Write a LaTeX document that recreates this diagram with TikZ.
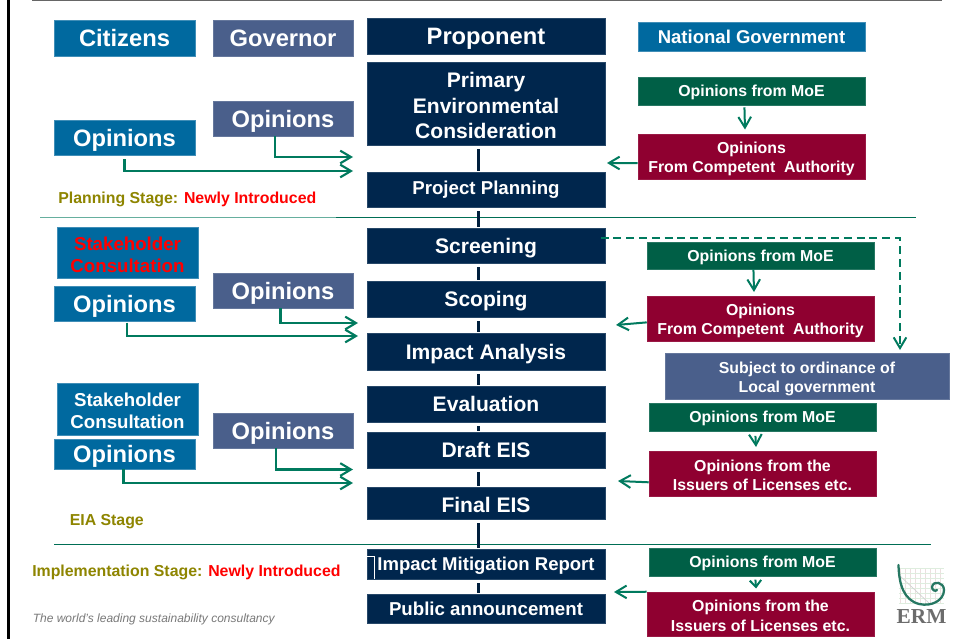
\documentclass[tikz,border=0pt]{standalone}
\usepackage{fontspec}
\setmainfont{Liberation Sans}
\newfontfamily\logofont{Liberation Serif}
\usetikzlibrary{arrows.meta}
\definecolor{cblue}{HTML}{00699F}
\definecolor{cslate}{HTML}{4A5F8B}
\definecolor{cnavy}{HTML}{00264D}
\definecolor{cgreen}{HTML}{005F46}
\definecolor{cred}{HTML}{8F0030}
\definecolor{colive}{HTML}{8E8500}
\definecolor{carrow}{HTML}{007A5E}
\definecolor{cspine}{HTML}{001F3D}
\newcommand{\fs}[2]{\fontsize{#1pt}{#2pt}\selectfont\bfseries}
\newcommand{\bx}[7]{\node[#6,minimum width={(#3-#2)*0.75pt},minimum height={(#5-#4)*0.75pt}] (#1) at ({(#2+#3)/2},{(#4+#5)/2}) {#7};}
\tikzset{
  x=0.75pt,y=-0.75pt,
  box/.style={inner sep=0pt,align=center,text=white,line width=0.4pt,text depth=0pt},
  blue/.style={box,fill=cblue,draw=cblue!75!white},
  slate/.style={box,fill=cslate,draw=cslate!85!white},
  navy/.style={box,fill=cnavy,draw=cnavy!85!white},
  moe/.style={box,fill=cgreen,draw=cgreen!85!white},
  auth/.style={box,fill=cred,draw=cred!90!white},
  big/.style={font=\fs{17.8}{20}},
  mid/.style={font=\fs{15.8}{19}},
  mids/.style={font=\fs{14}{17}},
  small/.style={font=\fs{11.9}{14.3}},
  stk/.style={font=\fs{14}{16.5}},
  spine/.style={draw=cspine,line width=2.4pt,shorten <=3pt,shorten >=0.8pt},
  flow/.style={draw=carrow,line width=1.9pt,-{Straight Barb[length=8pt,width=9.5pt,line width=1.6pt]}},
  flowf/.style={draw=carrow,line width=1.5pt,-{Straight Barb[length=8pt,width=9.5pt,line width=1.5pt]}},
  dashflow/.style={flowf,dash pattern=on 6pt off 3.6pt},
  stage/.style={inner sep=0pt,anchor=west,font=\fs{11.9}{14},text=colive},
  divider/.style={draw=carrow!90!black,line width=0.6pt},
}
\begin{document}
\begin{tikzpicture}
\useasboundingbox (0,0) rectangle (954,639);
\fill[white] (0,0) rectangle (954,639);
% frame lines
\draw[black,line width=1.9pt] (8.5,0) -- (8.5,639);
\draw[gray!80!black,line width=0.8pt] (32,0.5) -- (942,0.5);
% dividers
\draw[divider,carrow!60!white] (40,217.5) -- (336,217.5);
\draw[divider] (336,217.5) -- (916,217.5);
\draw[divider] (54,544.5) -- (931,544.5);
% left columns
\bx{citizens}{54}{195}{20}{56}{blue,big}{Citizens}
\bx{governor}{213}{353}{20}{56}{slate,big}{Governor}
\bx{opg1}{213}{353}{101}{136}{slate,big}{Opinions}
\bx{opc1}{54}{195}{120}{155}{blue,big}{Opinions}
\bx{stk1}{57}{198}{227}{278}{blue,stk,text=red,text height=29.5pt}{Stakeholder\\Consultation}
\bx{opc2}{54}{195}{286}{321}{blue,big}{Opinions}
\bx{opg2}{213}{353}{273}{308}{slate,big}{Opinions}
\bx{stk2}{57}{198}{383}{435}{blue,stk,text height=28.7pt}{Stakeholder\\Consultation}
\bx{opc3}{54}{195}{439}{469}{blue,big}{Opinions}
\bx{opg3}{213}{353}{413}{448}{slate,big}{Opinions}
% centre column
\bx{proponent}{367}{605}{18}{54}{navy,big}{Proponent}
\bx{primary}{367}{605}{62}{145}{navy,mid,text height=52.3pt}{Primary\\Environmental\\Consideration}
\bx{planning}{367}{605}{172}{207}{navy,mids,text depth=3pt}{Project Planning}
\bx{screening}{367}{605}{228}{263}{navy,mid}{Screening}
\bx{scoping}{367}{605}{281}{317}{navy,mid}{Scoping}
\bx{impact}{367}{605}{333}{370}{navy,mid}{Impact Analysis}
\bx{evaluation}{367}{605}{386}{422}{navy,mid}{Evaluation}
\bx{draft}{367}{605}{432}{468}{navy,mid}{Draft EIS}
\bx{final}{367}{605}{487}{519}{navy,mid,text height=14.3pt}{Final EIS}
\bx{mitig}{367}{605}{549}{579}{navy,font=\fs{13.9}{16}}{Impact Mitigation Report}
\bx{public}{367}{605}{594}{623}{navy,mids}{Public announcement}
\draw[white,line width=0.6pt] (367,556) -- (374,556) -- (374,579);
% right column
\bx{natgov}{638}{865}{22}{51}{blue,font=\fs{13.9}{16}}{National Government}
\bx{moe1}{638}{865}{77}{105}{moe,small}{Opinions from MoE}
\bx{auth1}{638}{865}{134}{179}{auth,small,text height=24.3pt}{Opinions\\From Competent\ \ Authority}
\bx{moe2}{647}{874}{242}{269}{moe,small}{Opinions from MoE}
\bx{auth2}{647}{874}{296}{341}{auth,small,text height=24.3pt}{Opinions\\From Competent\ \ Authority}
\bx{local}{665}{949}{353}{399}{slate,small,text height=24.3pt}{Subject to ordinance of\\Local government}
\bx{moe3}{649}{876}{403}{431}{moe,small}{Opinions from MoE}
\bx{auth3}{649}{876}{451}{496}{auth,small,text height=25.8pt}{Opinions from the\\Issuers of Licenses etc.}
\bx{moe4}{649}{876}{548}{576}{moe,small}{Opinions from MoE}
\bx{auth4}{647}{874}{592}{636}{auth,font=\fs{11.9}{15},text height=26.5pt}{Opinions from the\\Issuers of Licenses etc.}
% stage labels
\node[stage] (st1) at (58,199.5) {Planning Stage: \textcolor{red}{Newly Introduced}};
\node[stage] (st2) at (69.5,521.5) {EIA Stage};
\node[stage] (st3) at (32,572.5) {Implementation Stage: \textcolor{red}{Newly Introduced}};
\node[inner sep=0pt,anchor=west,font=\fontsize{9pt}{10pt}\selectfont\itshape,text=gray!95!black] (tag) at (32.5,619.5) {The world's leading sustainability consultancy};
% spine
\foreach \a/\b in {primary/planning,planning/screening,screening/scoping,scoping/impact,impact/evaluation,evaluation/draft,draft/final,final/mitig,mitig/public}{
  \draw[spine] ([xshift=-5.6pt]\a.south) -- ([xshift=-5.6pt]\b.north);
}
% arrow ends
\coordinate (e1) at (353,157);
\coordinate (e2) at (353,171);
\coordinate (e3) at (358,323);
\coordinate (e4) at (358,336);
\coordinate (e5) at (353,469.5);
\coordinate (e6) at (353,483);
\coordinate (w1) at (607,163);
\coordinate (w2) at (616,325);
\coordinate (w3) at (618,481);
\coordinate (w4) at (614,592);
\coordinate (d1) at (745,129.5);
\coordinate (d2) at (754,292);
\coordinate (d3) at (756,447);
\coordinate (d4) at (756,588.5);
\coordinate (s1) at (900,350);
% left arrows
\draw[flow] ([xshift=-6pt]opg1.south) |- (e1);
\draw[flow] ([xshift=0pt,yshift=-3pt]opc1.south) |- (e2);
\draw[flow] ([xshift=-2pt]opg2.south) |- (e3);
\draw[flow] ([xshift=2pt,yshift=-1pt]opc2.south) |- (e4);
\draw[flow] ([xshift=-5.3pt]opg3.south) |- (e5);
\draw[flow] ([xshift=-0.6pt]opc3.south) |- (e6);
% right arrows
\draw[flowf] ([yshift=-4.9pt]auth1.west) -- (w1);
\draw[flowf] ([yshift=-2.9pt]auth2.west) -- (w2);
\draw[flowf] ([yshift=-6.6pt]auth3.west) -- (w3);
\draw[flowf] (auth4.north west) -- (w4);
\draw[flowf] ([xshift=-5.3pt,yshift=-1.5pt]moe1.south) -- (d1);
\draw[flowf] ([xshift=-5.3pt]moe2.south) -- (d2);
\draw[flowf] ([xshift=-5.3pt,yshift=-3.5pt]moe3.south) -- (d3);
\draw[flowf,-{Straight Barb[length=5pt,width=8.5pt,line width=1.5pt]}] ([xshift=-5.3pt,yshift=-2.5pt]moe4.south) -- (d4);
% dashed
\draw[dashflow] ([xshift=-3.5pt,yshift=5.3pt]screening.east) -| (s1);
% logo
\foreach \gx in {900,905,...,943}{\draw[red!25!gray!20,line width=0.3pt] (\gx,568) -- (\gx,604);}
\foreach \gy in {568,573,...,604}{\draw[green!30!gray!20,line width=0.3pt] (899,\gy) -- (944,\gy);}
\draw[gray!35,line width=0.5pt] (899,575) -- (930,604);
\draw[cgreen!85!white,line width=1.7pt,line cap=round] (898.5,565) .. controls (899,585) and (904,600) .. (919,604) .. controls (932,607) and (944,600) .. (944,590) .. controls (944,582) and (933,580) .. (932,587) .. controls (932,590) and (935,592) .. (937,590);
\node[inner sep=0pt,font=\logofont\bfseries\fontsize{16pt}{18pt}\selectfont,text=gray!85!black] (erm) at (921.5,616.5) {ERM};
\end{tikzpicture}
\end{document}
